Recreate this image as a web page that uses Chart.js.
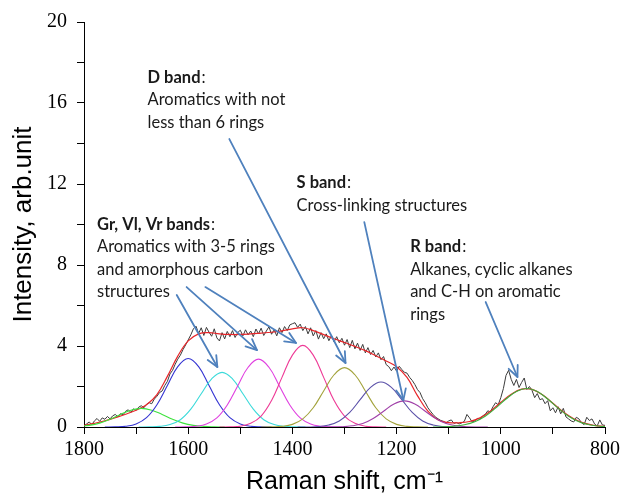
<!DOCTYPE html>
<html>
<head>
<meta charset="utf-8">
<script src="https://cdn.jsdelivr.net/npm/chart.js@4.4.1/dist/chart.umd.min.js"></script>
<style>
  html,body{margin:0;padding:0;background:#fff;}
  #wrap{width:624px;height:493px;}
</style>
</head>
<body>
<div id="wrap"><canvas id="raman" width="624" height="493"></canvas></div>
<script>
/* ---------- measured spectrum (black) ---------- */
const spectrumShift = [
  1800,1795,1790,1785,1780,1775,1770,1765,1760,1755,
  1750,1745,1740,1735,1730,1725,1720,1715,1710,1705,
  1700,1695,1690,1685,1680,1675,1670,1665,1660,1655,
  1650,1645,1640,1635,1630,1625,1620,1615,1610,1605,
  1600,1595,1590,1585,1580,1575,1570,1565,1560,1555,
  1550,1545,1540,1535,1530,1525,1520,1515,1510,1505,
  1500,1495,1490,1485,1480,1475,1470,1465,1460,1455,
  1450,1445,1440,1435,1430,1425,1420,1415,1410,1405,
  1400,1395,1390,1385,1380,1375,1370,1365,1360,1355,
  1350,1345,1340,1335,1330,1325,1320,1315,1310,1305,
  1300,1295,1290,1285,1280,1275,1270,1265,1260,1255,
  1250,1245,1240,1235,1230,1225,1220,1215,1210,1205,
  1200,1195,1190,1185,1180,1175,1170,1165,1160,1155,
  1150,1145,1140,1135,1130,1125,1120,1115,1110,1105,
  1100,1095,1090,1085,1080,1075,1070,1065,1060,1055,
  1050,1045,1040,1035,1030,1025,1020,1015,1010,1005,
  1000,995,990,985,980,975,970,965,960,955,
  950,945,940,935,930,925,920,915,910,905,
  900,895,890,885,880,875,870,865,860,855,
  850,845,840,835,830,825,820,815,810,805,
  800
];
const spectrumIntensity = [
  0.05,0.15,0.25,0.12,0.30,0.42,0.28,0.45,0.38,0.52,
  0.40,0.55,0.62,0.50,0.66,0.60,0.78,0.85,0.72,0.90,
  0.82,0.98,1.05,0.95,1.12,1.20,1.15,1.38,1.52,1.70,
  1.78,2.05,2.25,2.62,2.80,3.10,3.35,3.55,3.82,4.05,
  4.30,4.55,4.85,4.98,4.62,4.90,4.52,4.92,4.68,4.48,
  4.85,4.40,4.25,4.66,4.35,4.72,4.46,4.76,4.42,4.66,
  4.78,4.50,4.80,4.55,4.74,4.46,4.84,4.60,4.88,4.52,
  4.74,4.95,4.58,4.80,4.50,4.90,4.66,4.96,4.76,5.04,
  5.10,5.15,4.92,5.08,4.76,4.96,4.60,4.90,4.50,4.76,
  4.34,4.66,4.36,4.60,4.26,4.52,4.20,4.46,4.16,4.38,
  4.04,4.32,3.92,4.28,3.86,4.14,3.78,4.08,3.66,3.92,
  3.58,3.78,3.46,3.66,3.32,3.48,3.08,2.98,2.78,2.96,
  2.76,3.00,2.84,2.70,2.66,2.45,2.30,2.10,1.85,1.70,
  1.40,1.20,0.95,0.78,0.62,0.48,0.40,0.32,0.28,0.20,
  0.30,0.35,0.18,0.22,0.15,0.20,0.28,0.62,0.45,0.25,
  0.30,0.42,0.38,0.55,0.62,0.80,0.75,1.00,1.20,1.10,
  1.45,1.90,2.55,2.80,2.35,2.05,2.35,1.95,2.20,2.42,
  1.85,2.00,1.80,1.45,1.65,1.35,1.40,1.15,1.30,0.80,
  0.95,0.70,1.00,0.65,0.92,0.50,0.40,0.30,0.25,0.48,
  0.40,0.20,0.12,0.48,0.32,0.40,0.15,0.05,0.35,0.10,
  0.08
];

/* ---------- fitted envelope (red) ---------- */
const fitShift = [
  1800,1780,1760,1740,1720,1700,1680,1660,1640,1620,
  1600,1580,1560,1540,1520,1500,1480,1460,1440,1420,
  1400,1380,1360,1340,1320,1300,1280,1260,1240,1220,
  1200,1180,1160,1140,1120,1100,1080,1060,1040,1020,
  1000,980,960,940,920,900,880,860,840,820,
  800
];
const fitIntensity = [
  0.08,0.18,0.30,0.46,0.63,0.83,1.10,1.60,2.50,3.50,
  4.25,4.60,4.66,4.60,4.57,4.57,4.60,4.64,4.68,4.75,
  4.85,4.90,4.76,4.56,4.36,4.17,3.98,3.77,3.52,3.26,
  2.98,2.45,1.55,0.78,0.35,0.22,0.21,0.27,0.45,0.78,
  1.22,1.62,1.87,1.86,1.59,1.17,0.74,0.41,0.19,0.08,
  0.03
];

/* ---------- deconvoluted bands ---------- */
const gShift  = [1810,1790,1770,1750,1730,1710,1690,1670,1650,1630,1610,1590,1570,1550,1530];
const gValue  = [0.03,0.08,0.19,0.38,0.62,0.83,0.92,0.83,0.62,0.38,0.19,0.08,0.03,0.01,0.00];
const grShift = [1760,1740,1720,1700,1680,1660,1640,1620,1600,1580,1560,1540,1520,1500,1480,1460,1440];
const grValue = [0.00,0.01,0.04,0.15,0.46,1.10,2.05,2.98,3.38,2.98,2.05,1.10,0.46,0.15,0.04,0.01,0.00];
const vlShift = [1695,1675,1655,1635,1615,1595,1575,1555,1535,1515,1495,1475,1455,1435,1415,1395,1375];
const vlValue = [0.00,0.01,0.03,0.12,0.36,0.88,1.64,2.38,2.70,2.38,1.64,0.88,0.36,0.12,0.03,0.01,0.00];
const vrShift = [1625,1605,1585,1565,1545,1525,1505,1485,1465,1445,1425,1405,1385,1365,1345,1325,1305];
const vrValue = [0.00,0.01,0.04,0.15,0.45,1.09,2.03,2.95,3.35,2.95,2.03,1.09,0.45,0.15,0.04,0.01,0.00];
const dShift  = [1540,1520,1500,1480,1460,1440,1420,1400,1380,1360,1340,1320,1300,1280,1260,1240,1220];
const dValue  = [0.00,0.01,0.04,0.18,0.54,1.31,2.45,3.55,4.03,3.55,2.45,1.31,0.54,0.18,0.04,0.01,0.00];
const d2Shift = [1460,1440,1420,1400,1380,1360,1340,1320,1300,1280,1260,1240,1220,1200,1180,1160,1140];
const d2Value = [0.00,0.01,0.03,0.13,0.40,0.95,1.78,2.58,2.93,2.58,1.78,0.95,0.40,0.13,0.03,0.01,0.00];
const slShift = [1390,1370,1350,1330,1310,1290,1270,1250,1230,1210,1190,1170,1150,1130,1110,1090,1070];
const slValue = [0.00,0.00,0.02,0.10,0.30,0.72,1.35,1.96,2.22,1.96,1.35,0.72,0.30,0.10,0.02,0.00,0.00];
const sShift  = [1345,1325,1305,1285,1265,1245,1225,1205,1185,1165,1145,1125,1105,1085,1065,1045,1025];
const sValue  = [0.00,0.00,0.01,0.06,0.17,0.42,0.78,1.14,1.29,1.14,0.78,0.42,0.17,0.06,0.01,0.00,0.00];
const rShift  = [1130,1110,1090,1070,1050,1030,1010,990,970,950,930,910,890,870,850,830,810,790];
const rValue  = [0.00,0.01,0.04,0.11,0.26,0.53,0.93,1.38,1.75,1.90,1.75,1.38,0.93,0.53,0.26,0.11,0.04,0.01];

const xTicks = [1800,1600,1400,1200,1000,800];
const yTicks = [0,4,8,12,16,20];

function pts(xs, ys){ return xs.map((x,i)=>({x:x, y:ys[i]})); }

/* ---------- callouts ---------- */
const notes = [
  {title:'D band', lines:['Aromatics with not','less than 6 rings'], x:1678, y:16.99},
  {title:'S band', lines:['Cross-linking structures'], x:1392, y:11.80},
  {title:'Gr, Vl, Vr bands', lines:['Aromatics with 3-5 rings','and amorphous carbon','structures'], x:1775, y:9.73},
  {title:'R band', lines:['Alkanes, cyclic alkanes','and C-H on aromatic','rings'], x:1174, y:8.64}
];
const arrows = [
  {from:[1521,14.22], to:[1298,3.16]},
  {from:[1262,10.12], to:[1187,1.33]},
  {from:[1029,6.17],  to:[968,2.47]},
  {from:[1622,6.52],  to:[1544,2.96]},
  {from:[1603,6.91],  to:[1468,3.80]},
  {from:[1567,6.91],  to:[1393,4.15]}
];

const calloutPlugin = {
  id:'callouts',
  afterDatasetsDraw(chart){
    const ctx = chart.ctx, xs = chart.scales.x, ys = chart.scales.y;
    ctx.save();
    // arrows
    ctx.strokeStyle = '#4f81bd';
    ctx.lineWidth = 1.8;
    ctx.lineCap = 'round';
    ctx.lineJoin = 'round';
    arrows.forEach(a=>{
      const x1 = xs.getPixelForValue(a.from[0]), y1 = ys.getPixelForValue(a.from[1]);
      const x2 = xs.getPixelForValue(a.to[0]),   y2 = ys.getPixelForValue(a.to[1]);
      const ang = Math.atan2(y2-y1, x2-x1), L = 12, w = 0.42;
      ctx.beginPath(); ctx.moveTo(x1,y1); ctx.lineTo(x2,y2); ctx.stroke();
      ctx.beginPath();
      ctx.moveTo(x2 - L*Math.cos(ang-w), y2 - L*Math.sin(ang-w));
      ctx.lineTo(x2, y2);
      ctx.lineTo(x2 - L*Math.cos(ang+w), y2 - L*Math.sin(ang+w));
      ctx.stroke();
    });
    // text
    ctx.fillStyle = '#1a1a1a';
    ctx.textBaseline = 'alphabetic';
    ctx.textAlign = 'left';
    notes.forEach(n=>{
      const px = xs.getPixelForValue(n.x), py = ys.getPixelForValue(n.y);
      ctx.font = 'bold 16.5px Lato';
      ctx.fillText(n.title, px, py);
      const w = ctx.measureText(n.title).width;
      ctx.font = '16.5px Lato';
      ctx.fillText(':', px + w + 1, py);
      n.lines.forEach((l,i)=> ctx.fillText(l, px, py + 22.5*(i+1)));
    });
    ctx.restore();
  }
};

function band(xs, ys, color, order){
  return {data:pts(xs,ys), borderColor:color, borderWidth:1.1, pointRadius:0, tension:0.4, fill:false, order:order};
}

new Chart(document.getElementById('raman'), {
  type:'line',
  data:{ datasets:[
    {data:pts(spectrumShift, spectrumIntensity), borderColor:'#3c3c3c', borderWidth:1, pointRadius:0, tension:0, fill:false, order:12},
    {data:pts(fitShift, fitIntensity), borderColor:'#e8262a', borderWidth:1.2, pointRadius:0, tension:0.4, fill:false, order:11},
    band(gShift,  gValue,  '#3ee23e', 9),
    band(grShift, grValue, '#3434d2', 8),
    band(vlShift, vlValue, '#3cdada', 7),
    band(vrShift, vrValue, '#e040e0', 6),
    band(dShift,  dValue,  '#ee3a96', 5),
    band(d2Shift, d2Value, '#a3a33c', 4),
    band(slShift, slValue, '#5a50a8', 3),
    band(sShift,  sValue,  '#a040a8', 2),
    band(rShift,  rValue,  '#3cb03c', 1)
  ]},
  options:{
    responsive:false,
    animation:false,
    events:[],
    layout:{padding:{top:22, right:16, left:0, bottom:0}},
    plugins:{legend:{display:false}, tooltip:{enabled:false}},
    scales:{
      x:{
        type:'linear', reverse:true, min:800, max:1800,
        afterFit(s){ s.height = 66; },
        ticks:{stepSize:100, padding:4, color:'#000', maxRotation:0, autoSkip:false,
          font:{family:'Liberation Serif', size:20},
          callback:v => xTicks.includes(v) ? v : ''},
        grid:{drawOnChartArea:false, tickLength:7, tickColor:'#000'},
        border:{color:'#000', width:1},
        title:{display:true, text:'Raman shift, cm\u207B\u00B9', color:'#000',
          font:{family:'Liberation Sans', size:25, lineHeight:0.84}, padding:0}
      },
      y:{
        min:0, max:20,
        afterFit(s){ s.width = 84; },
        ticks:{stepSize:2, padding:10, color:'#000',
          font:{family:'Liberation Serif', size:20},
          callback:v => yTicks.includes(v) ? v : ''},
        grid:{drawOnChartArea:false, tickLength:7, tickColor:'#000'},
        border:{color:'#000', width:1},
        title:{display:true, text:'Intensity, arb.unit', color:'#000',
          font:{family:'Liberation Sans', size:26}, padding:{top:8, bottom:0}}
      }
    }
  },
  plugins:[calloutPlugin]
});
</script>
</body>
</html>
